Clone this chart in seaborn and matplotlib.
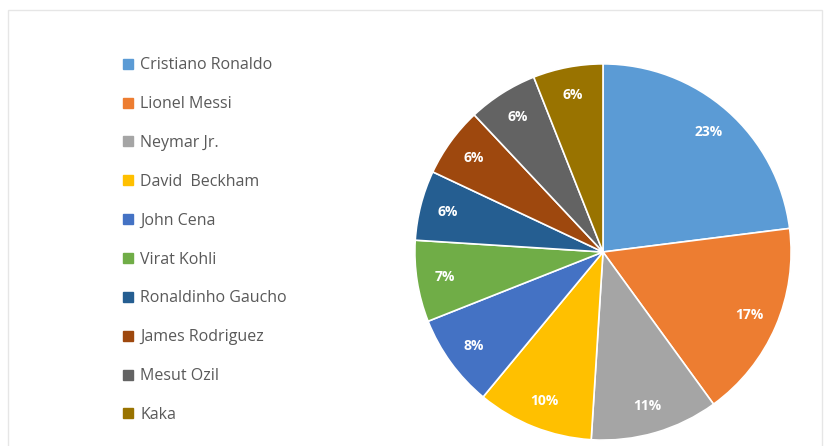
import matplotlib
matplotlib.use("Agg")
import matplotlib.pyplot as plt
from matplotlib.lines import Line2D
from matplotlib.patches import Rectangle
import seaborn as sns

players = ["Cristiano Ronaldo", "Lionel Messi", "Neymar Jr.", "David  Beckham",
           "John Cena", "Virat Kohli", "Ronaldinho Gaucho", "James Rodriguez",
           "Mesut Ozil", "Kaka"]
shares = [23, 17, 11, 10, 8, 7, 6, 6, 6, 6]
colors = ["#5B9BD5", "#ED7D31", "#A5A5A5", "#FFC000", "#4472C4",
          "#70AD47", "#255E91", "#9E480E", "#636363", "#997300"]

sns.set_theme(style="white")
plt.rcParams["font.family"] = ["Open Sans", "DejaVu Sans"]
palette = sns.color_palette(colors)

fig = plt.figure(figsize=(8.32, 4.46), dpi=100)
fig.patch.set_facecolor("white")

# faint chart-area frame
fig.patches.append(Rectangle((8 / 832, -0.01), 814 / 832, 1 - 10 / 446 + 0.01,
                             transform=fig.transFigure, fill=False,
                             edgecolor="#e6e6e6", linewidth=1.0))

ax = fig.add_axes([0.4964, 0.009, 0.4567, 0.852])
wedges, _, autotexts = ax.pie(
    shares, colors=palette, startangle=90, counterclock=False,
    autopct=lambda p: f"{p:.0f}%", pctdistance=0.85,
    wedgeprops=dict(edgecolor="white", linewidth=1.2),
    textprops=dict(color="white", fontsize=10, fontweight="bold"))
ax.set_xlim(-1.01, 1.01)
ax.set_ylim(-1.01, 1.01)
ax.set_aspect("equal")
ax.axis("off")

handles = [Line2D([], [], marker="s", linestyle="none", markersize=6.5,
                  markerfacecolor=c, markeredgecolor=c) for c in palette]
fig.legend(handles, players, loc="upper left",
           bbox_to_anchor=(117 / 832, 1 - 51 / 446), frameon=False,
           fontsize=11.5, labelcolor="#595959", handlelength=0.6,
           handletextpad=0.45, labelspacing=1.43, borderaxespad=0)

fig.savefig("out.png", dpi=100, facecolor="white")
